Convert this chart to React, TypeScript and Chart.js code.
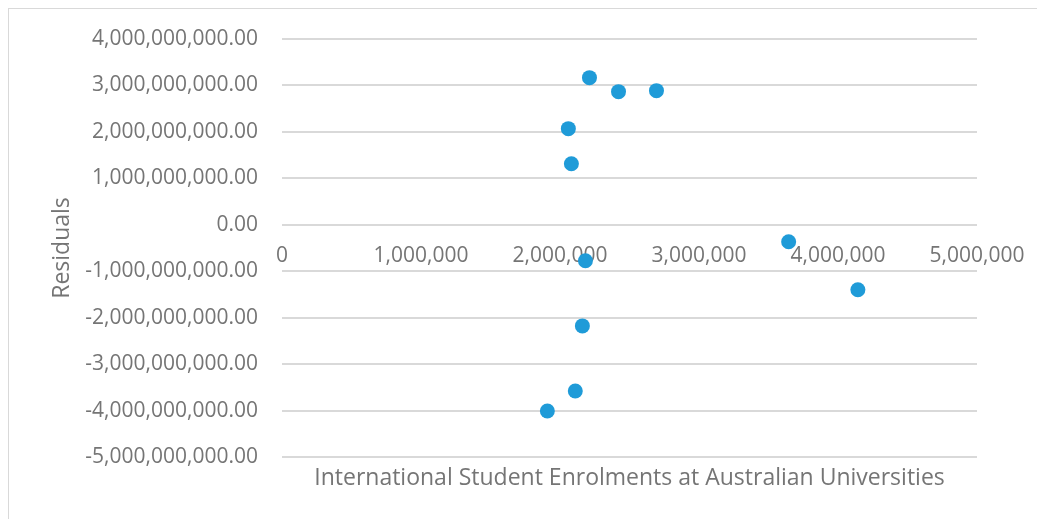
import React, { useEffect, useRef } from "react";
import { Chart, registerables } from "chart.js";

Chart.register(...registerables);

const enrolments: number[] = [2212000, 2421000, 2694000, 2060000, 2082000, 2183000, 3645000, 4143000, 2161000, 2110000, 1909000];
const residuals: number[] = [3168000000, 2866000000, 2888000000, 2070000000, 1315000000, -776000000, -366000000, -1400000000, -2177000000, -3578000000, -4009000000];

const xTitle = "International Student Enrolments at Australian Universities";
const yTitle = "Residuals";

const X_MIN = 0;
const X_MAX = 5000000;
const X_STEP = 1000000;
const Y_MIN = -5000000000;
const Y_MAX = 4000000000;
const Y_STEP = 1000000000;

const FONT = "'Open Sans', sans-serif";
const TEXT = "#757575";
const GRID = "#d9d9d9";
const DOT = "#1f9bd8";

const zeroPad = (s: any) => {
  s.paddingLeft = 0;
  s.paddingRight = 0;
  s.paddingTop = 0;
  s.paddingBottom = 0;
};

export default function App() {
  const ref = useRef<HTMLCanvasElement | null>(null);

  useEffect(() => {
    if (!ref.current) return;
    const points = enrolments.map((x, i) => ({ x, y: residuals[i] }));
    const chart = new Chart(ref.current, {
      type: "scatter",
      data: {
        datasets: [
          {
            data: points,
            backgroundColor: DOT,
            borderColor: DOT,
            borderWidth: 0,
            pointRadius: 7.5,
            pointHoverRadius: 7.5,
          },
        ],
      },
      options: {
        animation: false,
        responsive: false,
        maintainAspectRatio: false,
        layout: { padding: { left: 0, top: 30, right: 60, bottom: 0 } },
        plugins: { legend: { display: false }, tooltip: { enabled: false } },
        scales: {
          x: {
            type: "linear",
            position: { y: 0 },
            min: X_MIN,
            max: X_MAX,
            grid: { display: false, drawTicks: false },
            border: { display: false },
            ticks: {
              stepSize: X_STEP,
              padding: 19,
              color: TEXT,
              font: { family: FONT, size: 21 },
              maxRotation: 0,
              callback: (v: any) => Number(v).toLocaleString("en-US"),
            },
            afterFit: zeroPad,
          },
          xt: {
            type: "linear",
            position: "bottom",
            min: X_MIN,
            max: X_MAX,
            grid: { display: false, drawTicks: false },
            border: { display: false },
            ticks: { display: false },
            title: {
              display: true,
              text: xTitle,
              color: TEXT,
              font: { family: FONT, size: 23 },
              padding: { top: 0, bottom: 27 },
            },
            afterFit: (s: any) => {
              s.height = 62;
              zeroPad(s);
            },
          },
          y: {
            type: "linear",
            min: Y_MIN,
            max: Y_MAX,
            grid: { color: GRID, lineWidth: 2, drawTicks: false },
            border: { display: false },
            ticks: {
              stepSize: Y_STEP,
              padding: 24,
              color: TEXT,
              font: { family: FONT, size: 21 },
              callback: (v: any) =>
                Number(v).toLocaleString("en-US", { minimumFractionDigits: 2, maximumFractionDigits: 2 }),
            },
            title: {
              display: true,
              text: yTitle,
              color: TEXT,
              font: { family: FONT, size: 23 },
              padding: { top: 40, bottom: 0 },
            },
            afterFit: (s: any) => {
              s.width = 273;
              zeroPad(s);
            },
          },
        },
      },
    });
    return () => chart.destroy();
  }, []);

  return (
    <div style={{ width: 1028, height: 510, border: "1px solid #d9d9d9", borderRight: "none", borderBottom: "none", background: "#fff" }}>
      <canvas ref={ref} width={1028} height={510} style={{ display: "block" }} />
    </div>
  );
}
